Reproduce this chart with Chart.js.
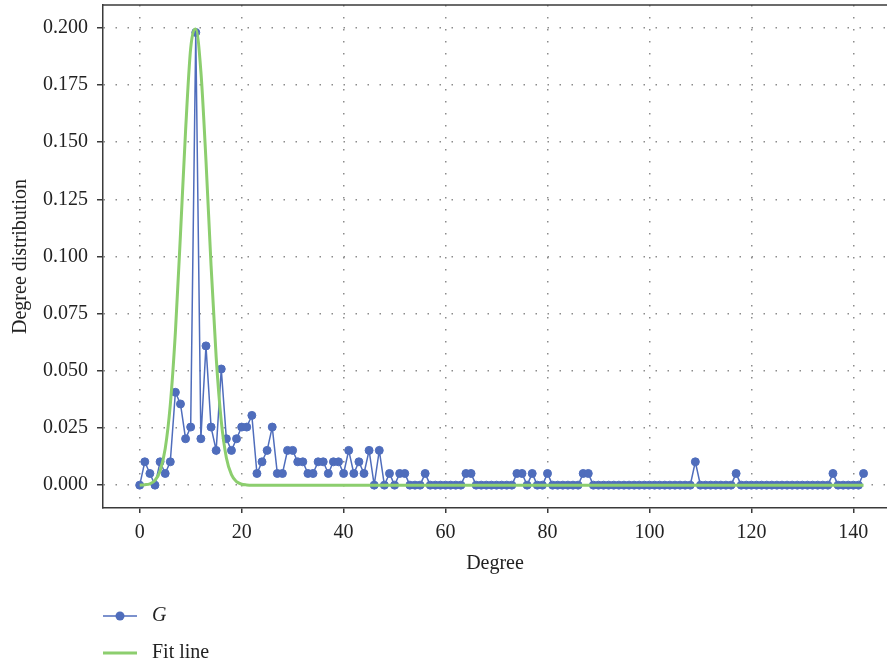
<!DOCTYPE html>
<html>
<head>
<meta charset="utf-8">
<script src="https://cdn.jsdelivr.net/npm/chart.js@4/dist/chart.umd.min.js"></script>
<style>
  html, body { margin: 0; padding: 0; background: #fff; overflow: hidden; width: 887px; height: 664px; }
  canvas { display: block; }
</style>
</head>
<body>
<canvas id="chart" width="892" height="664"></canvas>
<script>
// G: degree distribution, one value per degree 0..142
const gValues = [
  0, 0.0102, 0.0051, 0, 0.0102, 0.0051, 0.0102, 0.0406, 0.0355, 0.0203,      // 0-9
  0.0254, 0.198, 0.0203, 0.0609, 0.0254, 0.0152, 0.0508, 0.0203, 0.0152, 0.0203, // 10-19
  0.0254, 0.0254, 0.0305, 0.0051, 0.0102, 0.0152, 0.0254, 0.0051, 0.0051, 0.0152, // 20-29
  0.0152, 0.0102, 0.0102, 0.0051, 0.0051, 0.0102, 0.0102, 0.0051, 0.0102, 0.0102, // 30-39
  0.0051, 0.0152, 0.0051, 0.0102, 0.0051, 0.0152, 0, 0.0152, 0, 0.0051,      // 40-49
  0, 0.0051, 0.0051, 0, 0, 0, 0.0051, 0, 0, 0,                                // 50-59
  0, 0, 0, 0, 0.0051, 0.0051, 0, 0, 0, 0,                                     // 60-69
  0, 0, 0, 0, 0.0051, 0.0051, 0, 0.0051, 0, 0,                                // 70-79
  0.0051, 0, 0, 0, 0, 0, 0, 0.0051, 0.0051, 0,                                // 80-89
  0, 0, 0, 0, 0, 0, 0, 0, 0, 0,                                               // 90-99
  0, 0, 0, 0, 0, 0, 0, 0, 0, 0.0102,                                          // 100-109
  0, 0, 0, 0, 0, 0, 0, 0.0051, 0, 0,                                          // 110-119
  0, 0, 0, 0, 0, 0, 0, 0, 0, 0,                                               // 120-129
  0, 0, 0, 0, 0, 0, 0.0051, 0, 0, 0,                                          // 130-139
  0, 0, 0.0051                                                                // 140-142
]
const degrees = gValues.map((v, i) => i)

// Fit line
const fitDegrees = [0, 1, 2, 3, 4, 5, 6, 7, 8, 9, 10, 11, 12, 13, 14, 15, 16, 17, 18, 19, 20, 21, 22, 142]
const fitValues = [0, 0.0002, 0.0006, 0.0021, 0.0062, 0.0159, 0.0351, 0.0668, 0.1098, 0.155, 0.191,
  0.1995, 0.181, 0.142, 0.096, 0.056, 0.028, 0.012, 0.0046, 0.0015, 0.0004, 0.0001, 0, 0]

const xTicks = [0, 20, 40, 60, 80, 100, 120, 140]
const yTicks = [0, 0.025, 0.05, 0.075, 0.1, 0.125, 0.15, 0.175, 0.2]

const blue = "rgb(79, 109, 188)"
const green = "rgb(140, 206, 110)"
const axisColor = "#3a3a3a"
const fontFamily = "'Liberation Serif', 'DejaVu Serif', serif"

// top frame line
const frameTop = {
  id: "frameTop",
  afterDraw(chart) {
    const { ctx, chartArea } = chart
    ctx.save()
    ctx.strokeStyle = axisColor
    ctx.lineWidth = 1.5
    ctx.beginPath()
    ctx.moveTo(chartArea.left, chartArea.top)
    ctx.lineTo(chartArea.right, chartArea.top)
    ctx.stroke()
    ctx.restore()
  },
}

// legend stacked under the chart
const stackedLegend = {
  id: "stackedLegend",
  afterDraw(chart) {
    const { ctx, chartArea } = chart
    const x0 = chartArea.left
    const rows = [
      { ds: chart.data.datasets[0], y: 616, italic: true },
      { ds: chart.data.datasets[1], y: 653, italic: false },
    ]
    ctx.save()
    rows.forEach((row) => {
      ctx.strokeStyle = row.ds.borderColor
      ctx.lineWidth = row.ds.borderWidth
      ctx.beginPath()
      ctx.moveTo(x0, row.y)
      ctx.lineTo(x0 + 34, row.y)
      ctx.stroke()
      if (row.ds.pointRadius) {
        ctx.fillStyle = row.ds.pointBackgroundColor
        ctx.beginPath()
        ctx.arc(x0 + 17, row.y, 4.5, 0, Math.PI * 2)
        ctx.fill()
      }
      ctx.fillStyle = "#222"
      ctx.font = (row.italic ? "italic " : "") + "20px " + fontFamily
      ctx.textBaseline = "middle"
      ctx.textAlign = "left"
      ctx.fillText(row.ds.label, x0 + 49, row.y)
    })
    ctx.restore()
  },
}

const ctx = document.getElementById("chart").getContext("2d")
const chart = new Chart(ctx, {
  type: "line",
  data: {
    datasets: [
      {
        label: "G",
        data: degrees.map((d, i) => ({ x: d, y: gValues[i] })),
        borderColor: blue,
        backgroundColor: blue,
        pointBackgroundColor: blue,
        pointBorderColor: blue,
        borderWidth: 1.5,
        pointRadius: 4,
        pointBorderWidth: 1,
        tension: 0,
        order: 2,
      },
      {
        label: "Fit line",
        data: fitDegrees.map((d, i) => ({ x: d, y: fitValues[i] })),
        borderColor: green,
        backgroundColor: green,
        borderWidth: 3,
        pointRadius: 0,
        cubicInterpolationMode: "monotone",
        order: 1,
      },
    ],
  },
  options: {
    responsive: false,
    animation: false,
    layout: { padding: { top: 3, right: 0, bottom: 88, left: 0 } },
    plugins: {
      legend: { display: false },
      tooltip: { enabled: false },
    },
    scales: {
      x: {
        type: "linear",
        min: -7.2,
        max: 146.6,
        afterBuildTicks: (scale) => {
          scale.ticks = xTicks.map((v) => ({ value: v }))
        },
        afterFit: (scale) => {
          scale.height = 68
          scale.paddingLeft = 0
          scale.paddingRight = 0
        },
        grid: { color: "#8c8c8c", lineWidth: 1.5, tickColor: axisColor, tickLength: 5, tickWidth: 1.5 },
        border: { display: true, color: axisColor, width: 1.5, dash: [1.5, 10.5] },
        ticks: {
          padding: 8,
          color: "#222",
          font: { family: fontFamily, size: 20 },
          maxRotation: 0,
          callback: (v) => String(v),
        },
        title: {
          display: true,
          text: "Degree",
          color: "#222",
          font: { family: fontFamily, size: 20 },
          padding: 0,
        },
      },
      y: {
        type: "linear",
        min: -0.01,
        max: 0.21,
        afterBuildTicks: (scale) => {
          scale.ticks = yTicks.map((v) => ({ value: v }))
        },
        afterFit: (scale) => {
          scale.width = 103
          scale.paddingTop = 0
          scale.paddingBottom = 0
        },
        grid: { color: "#8c8c8c", lineWidth: 1.5, tickColor: axisColor, tickLength: 6, tickWidth: 1.5 },
        border: { display: true, color: axisColor, width: 1.5, dash: [1.5, 10.5] },
        ticks: {
          padding: 9,
          color: "#222",
          font: { family: fontFamily, size: 20 },
          callback: (v) => Number(v).toFixed(3),
        },
        title: {
          display: true,
          text: "Degree distribution",
          color: "#222",
          font: { family: fontFamily, size: 20 },
          padding: { top: 9, bottom: 0 },
        },
      },
    },
  },
  plugins: [frameTop, stackedLegend],
})
</script>
</body>
</html>
